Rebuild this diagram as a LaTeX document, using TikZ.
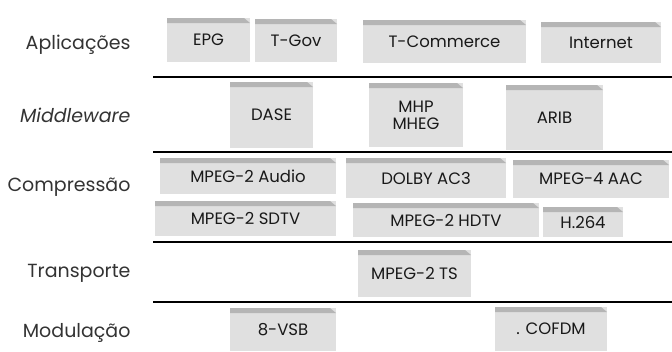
\documentclass[tikz,border=0pt]{standalone}
\usepackage{fontspec}
\setmainfont{Poppins}
\newcommand{\layerbox}[6]{%
  \node[blk, minimum width={(#4-#2)*1pt}, minimum height={(#5-#3)*1pt}]
    (#1) at ({(#2+#4)/2}, {(#3+#5)/2}) {#6};}
\begin{document}
\begin{tikzpicture}[x=1pt, y=-1pt,
    every node/.style={font=\fontsize{16.5}{17}\selectfont},
    layername/.style={anchor=east, text=black!80, font=\fontsize{19}{20}\selectfont},
    blk/.style={fill=gray!24, inner sep=0pt, outer sep=0pt, align=center,
      text=black!90,
      path picture={\fill[gray!58] (path picture bounding box.north west)
        -- ([xshift=-6pt]path picture bounding box.north east)
        -- ([yshift=-5pt]path picture bounding box.north east)
        -- ([yshift=-5pt]path picture bounding box.north west) -- cycle;}},
    sep/.style={line width=2.6pt, black}]
    % Parameters
    \def\lx{134} % right edge of the layer names
    \def\rx{672} % right end of the separator lines
    \useasboundingbox (0,0) rectangle (672,351);

    % Layer names
    \node[layername] (app) at (\lx, 45) {Aplicações};
    \node[layername] (mid) at (\lx, 115) {\itshape Middleware};
    \node[layername] (comp) at (\lx, 187) {Compressão};
    \node[layername] (trans) at (\lx, 273) {Transporte};
    \node[layername] (mod) at (\lx, 333) {Modulação};

    % Separator lines
    \coordinate (s1a) at (153, 77);  \coordinate (s1b) at (\rx, 77);
    \coordinate (s2a) at (153, 152); \coordinate (s2b) at (\rx, 152);
    \coordinate (s3a) at (153, 242); \coordinate (s3b) at (\rx, 242);
    \coordinate (s4a) at (153, 302); \coordinate (s4b) at (\rx, 302);
    \foreach \s in {1,...,4} {
            \draw[sep] (s\s a) -- (s\s b);
        }

    % Aplicacoes
    \layerbox{epg}{167}{18}{250}{62}{EPG}
    \layerbox{tgov}{255}{19}{337}{62}{T-Gov}
    \layerbox{tcom}{363}{20}{526}{63}{T-Commerce}
    \layerbox{inet}{541}{22}{661}{63}{Internet}

    % Middleware
    \layerbox{dase}{230}{82}{313}{148}{DASE}
    \layerbox{mhp}{369}{83}{463}{147}{MHP\\MHEG}
    \layerbox{arib}{506}{85}{603}{150}{ARIB}

    % Compressao
    \layerbox{audio}{160}{158}{336}{194}{MPEG-2 Audio}
    \layerbox{dolby}{346}{158}{506}{198}{DOLBY AC3}
    \layerbox{aac}{513}{160}{669}{198}{MPEG-4 AAC}
    \layerbox{sdtv}{155}{201}{336}{236}{MPEG-2 SDTV}
    \layerbox{hdtv}{353}{203}{539}{237}{MPEG-2 HDTV}
    \layerbox{avc}{543}{207}{623}{237}{H.264}

    % Transporte
    \layerbox{ts}{358}{250}{471}{297}{MPEG-2 TS}

    % Modulacao
    \layerbox{vsb}{230}{308}{336}{351}{8-VSB}
    \layerbox{ofdm}{495}{307}{607}{351}{. COFDM}
\end{tikzpicture}
\end{document}
